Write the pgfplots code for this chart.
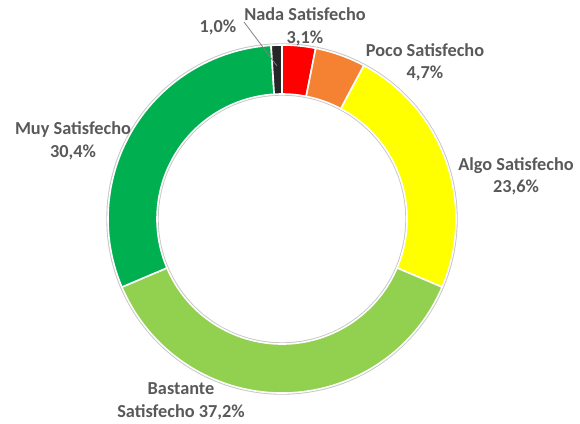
\documentclass[border=0pt]{standalone}
\usepackage{pgfplots}
\pgfplotsset{compat=1.18}
\usepackage{pgfplotstable}
\usepackage{fontspec}
\setmainfont{Carlito}

\definecolor{cNada}{HTML}{FF0000}
\definecolor{cPoco}{HTML}{F58232}
\definecolor{cAlgo}{HTML}{FFFF00}
\definecolor{cBast}{HTML}{92D050}
\definecolor{cMuy}{HTML}{00B050}
\definecolor{cNs}{HTML}{262626}
\definecolor{txt}{HTML}{595959}

% porcentaje y color de cada sector, en sentido horario desde arriba
\pgfplotstableread{
pct col
3.1 cNada
4.7 cPoco
23.6 cAlgo
37.2 cBast
30.4 cMuy
1.0 cNs
}\datos

\begin{document}
\begin{tikzpicture}[
    lbl/.style={font=\bfseries\fontsize{18.3}{22.5}\selectfont,
        text=txt, align=center, inner sep=0pt},
]
\begin{axis}[
    width=580pt,
    height=423pt,
    scale only axis,
    xmin=0, xmax=580,
    ymin=0, ymax=423,
    hide axis,
    clip=false,
]
    \path (axis cs:0,0) rectangle (axis cs:580,423);
    \def\cx{282}\def\cy{204}\def\Rout{174pt}\def\Rin{125pt}
    % sombra suave en los bordes del anillo
    \draw[gray!45, line width=1.4pt] (axis cs:\cx,\cy) circle[radius=175pt];
    \draw[gray!45, line width=1.4pt] (axis cs:\cx,\cy) circle[radius=124pt];
    \pgfplotstablegetrowsof{\datos}
    \pgfmathtruncatemacro\N{\pgfplotsretval-1}
    \xdef\ang{90}
    \foreach \i in {0,...,\N}{
        \pgfplotstablegetelem{\i}{pct}\of\datos \let\p\pgfplotsretval
        \pgfplotstablegetelem{\i}{col}\of\datos \let\col\pgfplotsretval
        \pgfmathsetmacro\a{\ang}
        \pgfmathsetmacro\b{\ang-3.6*\p}
        \edef\temp{\noexpand\fill[\col, draw=white, line width=1.6pt,
            shift={(axis cs:\cx,\cy)}]
            (\a:\Rout) arc[start angle=\a, end angle=\b, radius=\Rout]
            -- (\b:\Rin) arc[start angle=\b, end angle=\a, radius=\Rin]
            -- cycle;}
        \temp
        \xdef\ang{\b}
    }

    \node[lbl] at (axis cs:305,396) {Nada Satisfecho\\3,1\%};
    \node[lbl] at (axis cs:425,360.5) {Poco Satisfecho\\4,7\%};
    \node[lbl] at (axis cs:516,246.5) {Algo Satisfecho\\23,6\%};
    \node[lbl] at (axis cs:181,21.5) {Bastante\\Satisfecho 37,2\%};
    \node[lbl] at (axis cs:73,282) {Muy Satisfecho\\30,4\%};
    \node[lbl] at (axis cs:218,396) {1,0\%};
    \draw[gray, line width=0.8pt] (axis cs:244,401) -- (axis cs:277,357);
\end{axis}
\end{tikzpicture}
\end{document}
